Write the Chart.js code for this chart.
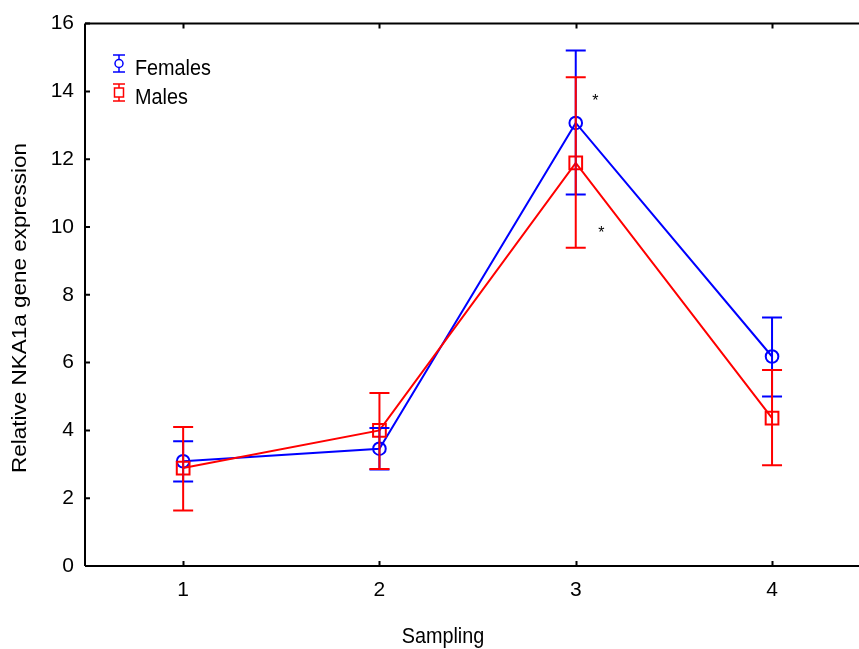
<!DOCTYPE html>
<html>
<head>
<meta charset="utf-8">
<script src="https://cdn.jsdelivr.net/npm/chart.js@4/dist/chart.umd.min.js"></script>
<style>
  html, body { margin: 0; padding: 0; background: #ffffff; }
  #wrap { width: 859px; height: 649px; }
</style>
</head>
<body>
<div id="wrap"><canvas id="c" width="859" height="649"></canvas></div>
<script>
// Sampling points on the x axis
const samplings = [1, 2, 3, 4];
const yTicks = [0, 2, 4, 6, 8, 10, 12, 14, 16];

// Relative NKA1a expression: means with upper / lower error limits
const femaleMean  = [3.09, 3.46, 13.07, 6.18];
const femaleUpper = [3.68, 4.07, 15.21, 7.33];
const femaleLower = [2.49, 2.85, 10.96, 5.00];

const maleMean  = [2.89, 4.00, 11.89, 4.36];
const maleUpper = [4.10, 5.10, 14.42, 5.78];
const maleLower = [1.64, 2.86, 9.39, 2.97];

// Significance marks (sampling position, expression level)
const starX = [3.10, 3.13];
const starY = [13.8, 9.9];

const FONT = '"Liberation Sans", Arial, sans-serif';
const BLUE = '#0000ff';
const RED = '#ff0000';

function pts(means) {
  return samplings.map((s, i) => ({ x: s, y: means[i] }));
}

const series = [
  { label: 'Females', color: BLUE, mean: femaleMean, upper: femaleUpper, lower: femaleLower, style: 'circle' },
  { label: 'Males',   color: RED,  mean: maleMean,   upper: maleUpper,   lower: maleLower,   style: 'rect' }
];

// text drawn slightly narrower than tall
function narrowText(ctx, text, x, y, align) {
  ctx.save();
  ctx.translate(x, y);
  ctx.scale(0.9, 1);
  ctx.textAlign = align;
  ctx.textBaseline = 'alphabetic';
  ctx.fillText(text, 0, 0);
  ctx.restore();
}

const decorPlugin = {
  id: 'decor',
  afterDatasetsDraw(chart) {
    const ctx = chart.ctx;
    const xs = chart.scales.x, ys = chart.scales.y;
    const a = chart.chartArea;

    // error bars
    series.forEach(s => {
      ctx.save();
      ctx.strokeStyle = s.color;
      ctx.lineWidth = 2;
      samplings.forEach((v, i) => {
        const px = xs.getPixelForValue(v);
        const top = ys.getPixelForValue(s.upper[i]);
        const bot = ys.getPixelForValue(s.lower[i]);
        ctx.beginPath();
        ctx.moveTo(px, top); ctx.lineTo(px, bot);
        ctx.moveTo(px - 10, top); ctx.lineTo(px + 10, top);
        ctx.moveTo(px - 10, bot); ctx.lineTo(px + 10, bot);
        ctx.stroke();
      });
      ctx.restore();
    });

    // frame: left, bottom and top lines
    ctx.save();
    ctx.strokeStyle = '#000';
    ctx.lineWidth = 2;
    ctx.beginPath();
    ctx.moveTo(a.left, a.top); ctx.lineTo(a.right, a.top);
    ctx.moveTo(a.left, a.top); ctx.lineTo(a.left, a.bottom);
    ctx.moveTo(a.left, a.bottom); ctx.lineTo(a.right, a.bottom);
    ctx.stroke();
    // inward ticks
    ctx.beginPath();
    samplings.forEach(v => {
      const px = Math.round(xs.getPixelForValue(v)) + 0.5;
      ctx.moveTo(px, a.bottom); ctx.lineTo(px, a.bottom - 5);
      ctx.moveTo(px, a.top); ctx.lineTo(px, a.top + 5);
    });
    yTicks.forEach(v => {
      const py = ys.getPixelForValue(v);
      ctx.moveTo(a.left, py); ctx.lineTo(a.left + 5, py);
    });
    ctx.stroke();
    ctx.restore();

    // significance marks
    ctx.save();
    ctx.fillStyle = '#000';
    ctx.font = '16px ' + FONT;
    ctx.textAlign = 'center';
    ctx.textBaseline = 'middle';
    starX.forEach((x, i) => {
      ctx.fillText('*', xs.getPixelForValue(x), ys.getPixelForValue(starY[i]) + 3);
    });
    ctx.restore();

    // legend
    ctx.save();
    series.forEach((s, i) => {
      const cx = 119, cy = 64 + i * 29;
      ctx.strokeStyle = s.color;
      ctx.lineWidth = 1.5;
      ctx.beginPath();
      ctx.moveTo(cx, cy - 9); ctx.lineTo(cx, cy + 8);
      ctx.moveTo(cx - 6, cy - 9); ctx.lineTo(cx + 6, cy - 9);
      ctx.moveTo(cx - 6, cy + 8); ctx.lineTo(cx + 6, cy + 8);
      ctx.stroke();
      ctx.fillStyle = '#fff';
      ctx.beginPath();
      if (s.style === 'circle') {
        ctx.arc(cx, cy - 0.5, 4, 0, Math.PI * 2);
      } else {
        ctx.rect(cx - 4.5, cy - 5, 9, 9);
      }
      ctx.fill();
      ctx.stroke();
      ctx.fillStyle = '#000';
      ctx.font = '22px ' + FONT;
      narrowText(ctx, s.label, 135, cy + 11, 'left');
    });
    ctx.restore();

    // axis titles
    ctx.save();
    ctx.fillStyle = '#000';
    ctx.font = '22px ' + FONT;
    narrowText(ctx, 'Sampling', 443, 643, 'center');
    ctx.font = '22.5px ' + FONT;
    ctx.translate(25.5, 308);
    ctx.rotate(-Math.PI / 2);
    ctx.scale(1, 0.9);
    ctx.textAlign = 'center';
    ctx.textBaseline = 'alphabetic';
    ctx.fillText('Relative NKA1a gene expression', 0, 0);
    ctx.restore();
  }
};

new Chart(document.getElementById('c'), {
  type: 'line',
  data: {
    datasets: series.map((s, i) => ({
      label: s.label,
      data: pts(s.mean),
      borderColor: s.color,
      backgroundColor: 'rgba(0,0,0,0)',
      borderWidth: 2,
      pointStyle: s.style,
      pointRadius: s.style === 'circle' ? 6.3 : 9,
      pointBorderWidth: 2,
      pointBorderColor: s.color,
      pointBackgroundColor: 'rgba(0,0,0,0)',
      tension: 0,
      order: 2 - i
    }))
  },
  options: {
    responsive: false,
    devicePixelRatio: 1,
    animation: false,
    layout: { autoPadding: false, padding: { top: 22, right: 0, left: 0, bottom: 0 } },
    plugins: { legend: { display: false }, tooltip: { enabled: false } },
    scales: {
      x: {
        type: 'linear',
        min: 0.5,
        max: 4.443,
        afterBuildTicks: s => { s.ticks = samplings.map(v => ({ value: v })); },
        afterFit: s => { s.height = 83; },
        grid: { display: false, drawTicks: false },
        border: { display: false },
        ticks: { color: '#000', font: { family: FONT, size: 21 }, padding: 12, maxRotation: 0 }
      },
      y: {
        min: 0,
        max: 16,
        afterBuildTicks: s => { s.ticks = yTicks.map(v => ({ value: v })); },
        afterFit: s => { s.width = 85; },
        grid: { display: false, drawTicks: false },
        border: { display: false },
        ticks: { color: '#000', font: { family: FONT, size: 21 }, padding: 11 }
      }
    }
  },
  plugins: [decorPlugin]
});
</script>
</body>
</html>
